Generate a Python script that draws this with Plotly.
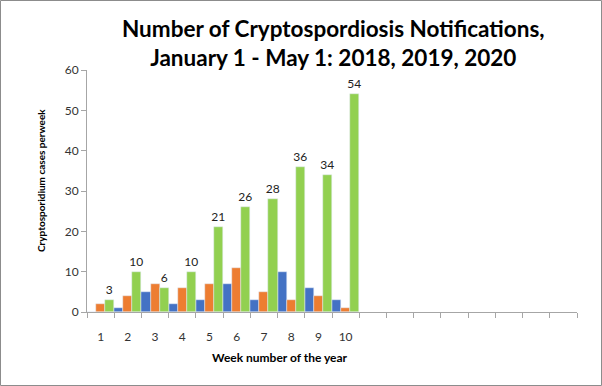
import plotly.graph_objects as go

weeks = ["1", "2", "3", "4", "5", "6", "7", "8", "9", "10"]
empty_slots = [" " * i for i in range(1, 9)]  # weeks not yet reported (blank categories)
cases_2018 = [0, 1, 5, 2, 3, 7, 3, 10, 6, 3]
cases_2019 = [2, 4, 7, 6, 7, 11, 5, 3, 4, 1]
cases_2020 = [3, 10, 6, 10, 21, 26, 28, 36, 34, 54]

FONT = "Lato"

fig = go.Figure()
fig.add_bar(x=weeks, y=cases_2018, name="2018", marker_color="#4472C4")
fig.add_bar(x=weeks, y=cases_2019, name="2019", marker_color="#ED7D31")
fig.add_bar(x=weeks, y=cases_2020, name="2020", marker_color="#92D050",
            text=cases_2020, textposition="outside", constraintext="none",
            textfont=dict(family=FONT, size=12, color="#222"), cliponaxis=False)

fig.update_layout(
    width=602, height=386,
    margin=dict(l=87, r=25, t=70, b=74),
    paper_bgcolor="white", plot_bgcolor="white",
    barmode="group", bargap=0, bargroupgap=0,
    showlegend=False,
    font=dict(family=FONT, color="#333"),
    shapes=[dict(type="rect", xref="paper", yref="paper",
                 x0=-86.5/490, x1=1 + 24.5/490, y0=-73.5/242, y1=1 + 69.5/242,
                 line=dict(color="#8c8c8c", width=1), fillcolor="rgba(0,0,0,0)", layer="below")],
)

fig.update_xaxes(
    type="category", categoryorder="array", categoryarray=weeks + empty_slots,
    range=[-0.5, len(weeks) + len(empty_slots) - 0.5],
    showline=True, linecolor="#a6a6a6", linewidth=1,
    ticks="outside", tickson="boundaries", ticklen=5, tickcolor="#a6a6a6",
    ticklabelstandoff=14, tickangle=0,
    tickfont=dict(family=FONT, size=12, color="#333"),
    showgrid=False, zeroline=False,
)
fig.update_yaxes(
    range=[0, 60], dtick=10,
    showline=True, linecolor="#a6a6a6", linewidth=1,
    ticks="outside", ticklen=5, tickcolor="#a6a6a6",
    tickfont=dict(family=FONT, size=12, color="#333"),
    showgrid=False, zeroline=False,
)

fig.add_annotation(text="<b>Number of Cryptospordiosis Notifications,<br>January 1 - May 1: 2018, 2019, 2020</b>",
                   xref="paper", yref="paper",
                   x=(333 - 87) / 490, y=(312 - 43) / 242, xanchor="center", yanchor="middle",
                   showarrow=False, font=dict(family=FONT, size=22.5, color="black"))
fig.add_annotation(text="<b>Cryptosporidium cases perweek</b>", xref="paper", yref="paper",
                   x=(41 - 87) / 490, y=(312 - 181) / 242, xanchor="center", yanchor="middle",
                   textangle=-90, showarrow=False,
                   font=dict(family=FONT, size=10, color="black"))
fig.add_annotation(text="<b>Week number of the year</b>", xref="paper", yref="paper",
                   x=(280 - 87) / 490, y=-45 / 242, xanchor="center", yanchor="middle",
                   showarrow=False, font=dict(family=FONT, size=12, color="black"))

fig.write_html("out.html", config={"displayModeBar": False},
               post_script="document.body.style.margin='0';")
